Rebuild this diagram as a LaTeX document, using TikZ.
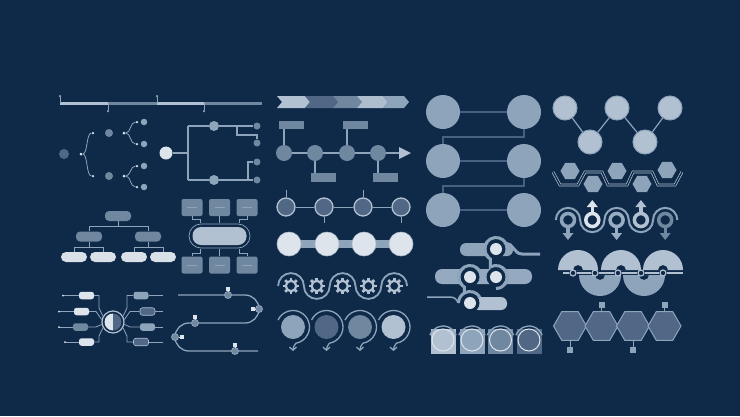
\documentclass[tikz,border=0pt]{standalone}
\usetikzlibrary{shapes.geometric,arrows.meta,calc}
\definecolor{bg}{RGB}{15,42,73}
\definecolor{cA}{RGB}{222,228,235}
\definecolor{cB}{RGB}{178,193,209}
\definecolor{cC}{RGB}{142,164,187}
\definecolor{cD}{RGB}{112,135,160}
\definecolor{cE}{RGB}{80,104,134}
\definecolor{cL}{RGB}{70,96,128}
\begin{document}
\begin{tikzpicture}[x=1pt,y=-1pt,
  bub/.style={circle,inner sep=0pt,minimum size=#1},
  ln/.style={cC,line width=0.8pt},
  mbox/.style={rectangle,rounded corners=2.5pt,minimum width=15pt,minimum height=7.5pt,inner sep=0pt},
  obox/.style={rectangle,rounded corners=4pt,minimum width=26pt,minimum height=10pt,inner sep=0pt},
  sbox/.style={rectangle,rounded corners=2pt,minimum width=21pt,minimum height=17pt,inner sep=0pt,fill=cD},
  fbox/.style={rectangle,minimum width=25pt,minimum height=8.5pt,inner sep=0pt,fill=cD},
  hexa/.style={regular polygon,regular polygon sides=6,inner sep=0pt,minimum size=#1},
  pin/.style={rectangle,inner sep=0pt,minimum size=6pt,fill=cC}]
\fill[bg] (0,0) rectangle (740,416);
\useasboundingbox (0,0) rectangle (740,416);

% ---------- C1 timeline
\draw[cB,line width=3pt] (60,103)--(108,103) (157,103)--(204,103);
\draw[cD,line width=3pt] (108,103)--(157,103) (204,103)--(262,103);
\foreach \x/\y [count=\i] in {60/96,108/111,157/96,204/111}{
  \node[bub=2.5pt,fill=cC] (tk\i) at (\x,\y) {};
  \draw[cC,line width=0.6pt] (tk\i) -- (\x,103);}

% ---------- C1 left tree
\node[bub=10pt,fill=cE] (tl0) at (64,154) {};
\node[bub=3pt,fill=cA] (tl1) at (81,154) {};
\node[bub=2.5pt,fill=cA] (tla) at (93,133) {};
\node[bub=2.5pt,fill=cA] (tlb) at (93,176) {};
\node[bub=8pt,fill=cD] (tlc) at (109,133) {};
\node[bub=8pt,fill=cD] (tld) at (109,176) {};
\node[bub=3pt,fill=cA] (tle) at (124,133) {};
\node[bub=3pt,fill=cA] (tlf) at (124,176) {};
\foreach \y [count=\i] in {122,144,166,187}{
  \node[bub=2.5pt,fill=cA] (tg\i) at (137,\y) {};
  \node[bub=6.5pt,fill=cC] (th\i) at (144,\y) {};}
\draw[ln] (tl1) .. controls (88,154) and (86,133) .. (tla);
\draw[ln] (tl1) .. controls (88,154) and (86,176) .. (tlb);
\draw[ln] (tle) .. controls (131,133) and (130,122) .. (tg1);
\draw[ln] (tle) .. controls (131,133) and (130,144) .. (tg2);
\draw[ln] (tlf) .. controls (131,176) and (130,166) .. (tg3);
\draw[ln] (tlf) .. controls (131,176) and (130,187) .. (tg4);

% ---------- C1 right tree
\node[bub=13pt,fill=cA] (tr0) at (166,153) {};
\node[bub=10pt,fill=cC] (tr1) at (214,126) {};
\node[bub=10pt,fill=cC] (tr2) at (214,180) {};
\node[bub=7pt,fill=cD] (tr3) at (257,126) {};
\node[bub=7pt,fill=cD] (tr4) at (257,143) {};
\node[bub=7pt,fill=cD] (tr5) at (257,162) {};
\node[bub=7pt,fill=cD] (tr6) at (257,180) {};
\draw[cC,line width=1.3pt] (tr0) -- (188,153);
\draw[cC,line width=1.3pt] (188,126) -- (188,180);
\draw[cC,line width=1.3pt] (188,126) -- (tr1) -- (tr3);
\draw[cC,line width=1.3pt] (188,180) -- (tr2) -- (tr6);
\draw[cC,line width=1.3pt] (237,126) |- (257,135) -- (tr4);
\draw[cC,line width=1.3pt] (248,180) |- (tr5);

% ---------- C2 org chart
\node[obox,fill=cD] (o0) at (118,216) {};
\node[obox,fill=cD] (o1) at (89,236.5) {};
\node[obox,fill=cD] (o2) at (148,236.5) {};
\foreach \x [count=\i] in {74,103,134,163}{
  \node[obox,fill=cA!90!cB,rounded corners=5pt] (ob\i) at (\x,257) {};}
\draw[ln] (o0) -- (118,226) (89,226) -- (148,226) (89,226) -- (o1) (148,226) -- (o2);
\draw[ln] (o1) -- (89,247) (74,247) -- (103,247) (74,247) -- (ob1) (103,247) -- (ob2);
\draw[ln] (o2) -- (148,247) (134,247) -- (163,247) (134,247) -- (ob3) (163,247) -- (ob4);

% ---------- C3 pill with boxes
\node[rectangle,rounded corners=8.5pt,minimum width=54pt,minimum height=18pt,inner sep=0pt,fill=cB] (pill) at (219.5,236) {};
\draw[cC,line width=0.7pt,rounded corners=12pt] (189,224) rectangle (250,248);
\foreach \x [count=\i] in {192,219.5,247}{
  \node[sbox] (bt\i) at (\x,207.5) {};
  \node[sbox] (bb\i) at (\x,265) {};
  \draw[cC,line width=0.6pt] ({\x-5},207.5) -- ({\x+5},207.5) ({\x-5},265) -- ({\x+5},265);}
\draw[cC,line width=0.6pt] (bt1.south) -- (192,219) -- (200,219) -- (200,223);
\draw[cC,line width=0.6pt] (bt2.south) -- (219.5,223);
\draw[cC,line width=0.6pt] (bt3.south) -- (247,219) -- (239,219) -- (239,223);
\draw[cC,line width=0.6pt] (bb1.north) -- (192,253) -- (200,253) -- (200,249);
\draw[cC,line width=0.6pt] (bb2.north) -- (219.5,249);
\draw[cC,line width=0.6pt] (bb3.north) -- (247,253) -- (239,253) -- (239,249);

% ---------- C4 mind map
\node[bub=22pt,draw=cB,line width=1.2pt,fill=bg] (mm) at (113,322) {};
\fill[cA] (113,313.5) arc[start angle=-90,end angle=-270,radius=8.5] -- cycle;
\fill[cE] (113,313.5) arc[start angle=-90,end angle=90,radius=8.5] -- cycle;
\node[mbox,fill=cA] (lb1) at (86.5,295.5) {};
\node[mbox,fill=cA] (lb2) at (81.5,311.5) {};
\node[mbox,fill=cD] (lb3) at (80.5,327) {};
\node[mbox,fill=cA] (lb4) at (86.5,342) {};
\node[mbox,fill=cC] (rb1) at (141,295.5) {};
\node[mbox,fill=cE,draw=cB,line width=0.6pt] (rb2) at (147.5,311.5) {};
\node[mbox,fill=cC] (rb3) at (147.5,327) {};
\node[mbox,fill=cE,draw=cB,line width=0.6pt] (rb4) at (141,342) {};
\foreach \n/\x in {lb1/63,lb2/59,lb3/59,lb4/65}{
  \draw[ln] (\n.west) -- (\x,0 |- \n.west) node[bub=2pt,fill=cA] {};}
\foreach \n in {rb1,rb2,rb3,rb4}{
  \draw[ln] (\n.east) -- (163,0 |- \n.east);}
\draw[ln] (lb1.east) -- (99,295.5) -- (99,308) -- (mm.150);
\draw[ln] (lb2.east) -- (96,311.5) -- (mm.168);
\draw[ln] (lb3.east) -- (96,327) -- (mm.192);
\draw[ln] (lb4.east) -- (99,342) -- (99,336) -- (mm.210);
\draw[ln] (rb1.west) -- (127,295.5) -- (127,308) -- (mm.30);
\draw[ln] (rb2.west) -- (130,311.5) -- (mm.12);
\draw[ln] (rb3.west) -- (130,327) -- (mm.-12);
\draw[ln] (rb4.west) -- (127,342) -- (127,336) -- (mm.-30);

% ---------- C5 snake path
\draw[cC,line width=1.3pt] (178,295) -- (245,295) arc[start angle=-90,end angle=90,radius=14]
  -- (189,323) arc[start angle=-90,end angle=-270,radius=14] -- (258,351);
\foreach \x/\y/\px/\py [count=\i] in {228/295/228/289, 259/309/252.5/309, 195/323/195/317, 175/337/181.5/337, 235/351/235/345}{
  \node[pin,fill=cA,minimum size=4pt] (sp\i) at (\px,\py) {};
  \node[bub=7pt,fill=cD,draw=cC,line width=0.8pt] (sn\i) at (\x,\y) {};
  \draw[cA,line width=0.6pt] (sp\i) -- (sn\i);}

% ---------- C6 chevrons
\foreach \a/\b/\col in {277/305/cB, 305/333/cE, 333/357/cD, 357/383/cB!90!cC, 383/404/cC}{
  \fill[\col] (\a,96) -- (\b,96) -- ({\b+5},102) -- (\b,108) -- (\a,108) -- ({\a+5},102) -- cycle;}

% ---------- C6 flow timeline
\foreach \x [count=\i] in {284,315,347,378}{ \node[bub=16pt,fill=cD] (f\i) at (\x,153) {}; }
\coordinate (fend) at (400,153);
\draw[cC,line width=2pt] (f1) -- (f2) -- (f3) -- (f4) -- (fend);
\fill[cB] (399,147) -- (411,153) -- (399,159) -- cycle;
\node[fbox] (fb1) at (291.5,125) {};
\node[fbox] (fb2) at (355,125) {};
\node[fbox] (fb3) at (323,177.5) {};
\node[fbox] (fb4) at (385.5,177.5) {};
\draw[cC,line width=2pt] (f1) -- (f1 |- fb1.south);
\draw[cC,line width=2pt] (f3) -- (f3 |- fb2.south);
\draw[cC,line width=2pt] (f2) -- (f2 |- fb3.north);
\draw[cC,line width=2pt] (f4) -- (f4 |- fb4.north);

% ---------- C7 outlined circles
\foreach \x [count=\i] in {286,324,363,401}{ \node[bub=18pt,fill=cE,draw=cB,line width=1.3pt] (oc\i) at (\x,207) {}; }
\draw[cC,line width=0.8pt] (oc1) -- (oc2) -- (oc3) -- (oc4);
\draw[cC,line width=0.6pt] (oc1.north) -- ++(0,-7) (oc3.north) -- ++(0,-7) (oc2.south) -- ++(0,6) (oc4.south) -- ++(0,6);

% ---------- C7 light circles row
\fill[cC] (289,240) rectangle (401,248);
\foreach \x [count=\i] in {289,327,364,401}{ \node[bub=24pt,fill=cA,draw=cB,line width=0.6pt] (lc\i) at (\x,244) {}; }

% ---------- gears
\draw[cC,line width=1.8pt] (278.1,286) arc[start angle=180,end angle=360,radius=12.9]
  arc[start angle=180,end angle=0,radius=12.9] arc[start angle=180,end angle=360,radius=12.9]
  arc[start angle=180,end angle=0,radius=12.9] arc[start angle=180,end angle=360,radius=12.9];
\foreach \gx in {291,316.8,342.6,368.4,394.2}{
  \begin{scope}[shift={(\gx,286)}]
    \foreach \a in {0,45,...,315} \draw[cB,line width=2.8pt] (\a:4) -- (\a:8.3);
    \draw[cB,line width=2.2pt] (0,0) circle (5.2);
  \end{scope}}

% ---------- circles with arrows
\foreach \x/\col [count=\i] in {293/cC, 326.5/cE, 360/cD, 393.5/cB}{
  \node[bub=24pt,fill=\col] (ca\i) at (\x,327) {};
  \draw[cC,line width=1.3pt,-{Straight Barb[length=3pt,width=7pt]}] ($(\x,327)+(205:16.5)$)
    arc[start angle=205,end angle=440,radius=16.5] .. controls ({\x+1},346) and (\x,347) .. (\x,351);}

% ---------- C8 circle ladder
\foreach \y [count=\i] in {112,161,210}{
  \node[bub=34pt,fill=cC] (lq\i) at (443,\y) {};
  \node[bub=34pt,fill=cC] (rq\i) at (524,\y) {};
  \draw[cL,line width=1.2pt] (lq\i) -- (rq\i);}
\draw[cL,line width=1.2pt] (rq1) -- (524,137) -- (443,137) -- (lq2);
\draw[cL,line width=1.2pt] (rq2) -- (524,186) -- (443,186) -- (lq3);

% ---------- C9 sliders
\fill[cC,rounded corners=6pt] (460,243) rectangle (513,256);
\fill[cC!80!cB,rounded corners=7pt] (435,269) rectangle (532,284);
\fill[cB,rounded corners=6pt] (472,297) rectangle (507,310);
\foreach \x/\y in {496/249, 470/277, 496/277, 470/303}{ \fill[bg] (\x,\y) circle (9.5); }
% S track 1: top circle to mid-right circle
\draw[cC,line width=3pt] (540,254) -- (522,254) .. controls (514,254) and (513,243) .. ($(496,249)+(330:11.5)$)
  arc[start angle=330,end angle=120,radius=11.5] -- ($(496,277)+(240:11.5)$)
  arc[start angle=240,end angle=450,radius=11.5];
% S track 2: mid-left circle to bottom circle
\draw[cC,line width=3pt] ($(470,277)+(330:11.5)$) arc[start angle=330,end angle=120,radius=11.5]
  -- ($(470,303)+(240:11.5)$) arc[start angle=240,end angle=330,radius=11.5];
\draw[cC,line width=1.5pt] (427,297) -- (450,297) .. controls (455,297) and (457,300) .. (458.5,303);
\draw[cC,line width=3pt] ($(470,303)+(180:11.5)$) arc[start angle=180,end angle=240,radius=11.5];
\draw[cC,line width=1.5pt] (540,254) -- (522,254);
\foreach \x/\y [count=\i] in {496/249, 470/277, 496/277, 470/303}{ \node[bub=12pt,fill=cA] (sl\i) at (\x,\y) {}; }

% ---------- C9 squares
\foreach \x/\sq [count=\i] in {443/cB, 472/cC, 500.5/cD, 529/cE}{
  \fill[\sq] ({\x-12.5},329) rectangle ({\x+12.5},354);
  \node[bub=22pt,fill=\sq,draw=cA,line width=1pt] (sq\i) at (\x,340) {};
  \draw[cC,line width=1.3pt] ($(\x,340)+(200:14)$) arc[start angle=200,end angle=340,radius=14];}

% ---------- C10 circle network
\node[bub=24pt,fill=cB,draw=cC,line width=1pt] (k1) at (565,108) {};
\node[bub=24pt,fill=cB,draw=cC,line width=1pt] (k2) at (617,108) {};
\node[bub=24pt,fill=cB,draw=cC,line width=1pt] (k3) at (670,108) {};
\node[bub=24pt,fill=cB,draw=cC,line width=1pt] (k4) at (590,142) {};
\node[bub=24pt,fill=cB,draw=cC,line width=1pt] (k5) at (645,142) {};
\draw[cC,line width=1.2pt] (k1) -- (k4) -- (k2) -- (k5) -- (k3);

% ---------- C10 hexagons with zigzag
\draw[cB,line width=0.7pt,double=bg,double distance=1.4pt] (553,172) -- (560,185) -- (578,185) -- (585,172) -- (602,172) -- (608,185) -- (627,185) -- (633,172) -- (652,172) -- (658,185) -- (675,185) -- (682,172);
\foreach \x/\y [count=\i] in {570/171, 617/171, 667/170, 593/184, 642/184}{
  \node[hexa=19pt,fill=cC] (hz\i) at (\x,\y) {};}

% ---------- C11 rings with arrows
\draw[cC,line width=2pt] (555.85,220) arc[start angle=180,end angle=360,radius=12.15]
  arc[start angle=180,end angle=0,radius=12.15] arc[start angle=180,end angle=360,radius=12.15]
  arc[start angle=180,end angle=0,radius=12.15] arc[start angle=180,end angle=360,radius=12.15];
\foreach \x/\col/\dir [count=\i] in {568/cC/1, 592.3/cA/-1, 616.6/cC!70!cB/1, 640.9/cB/-1, 665.2/cD/1}{
  \node[bub=13pt,draw=\col,line width=3.5pt] (rg\i) at (\x,220) {};
  \fill[\col] ({\x-1.6},{220+\dir*8}) rectangle ({\x+1.6},{220+\dir*13.5});
  \fill[\col] ({\x-5.5},{220+\dir*13}) -- ({\x+5.5},{220+\dir*13}) -- (\x,{220+\dir*20}) -- cycle;}

% ---------- C11 half annuli chain
\foreach \x in {578,621,663}{
  \fill[cB,even odd rule] ({\x-20},270) arc[start angle=180,end angle=360,radius=20] -- cycle
    ({\x-5},270) arc[start angle=180,end angle=360,radius=5] -- cycle;}
\foreach \x in {600,644}{
  \fill[cC,even odd rule] ({\x-21},275) arc[start angle=180,end angle=0,radius=21] -- cycle
    ({\x-5},275) arc[start angle=180,end angle=0,radius=5] -- cycle;}
\foreach \x [count=\i] in {573,595,618,641,663}{ \node[bub=6pt,fill=bg,draw=cB,line width=1.2pt] (bd\i) at (\x,273) {}; }
\coordinate (bl) at (563,273);
\coordinate (br) at (683,273);
\draw[cB,line width=1.5pt] (bl) -- (bd1) -- (bd2) -- (bd3) -- (bd4) -- (bd5) -- (br);

% ---------- C11 hexagon chain
\foreach \x [count=\i] in {570,601.5,633,664.5}{
  \node[hexa=33pt,fill=cE,draw=cC,line width=1pt] (hx\i) at (\x,326) {};}
\node[pin] (pn1) at (601.5,305) {};
\node[pin] (pn2) at (664.5,305) {};
\node[pin] (pn3) at (570,350) {};
\node[pin] (pn4) at (633,350) {};
\draw[cC,line width=1pt] (pn1) -- (hx2) (pn2) -- (hx4) (pn3) -- (hx1) (pn4) -- (hx3);
\end{tikzpicture}
\end{document}
